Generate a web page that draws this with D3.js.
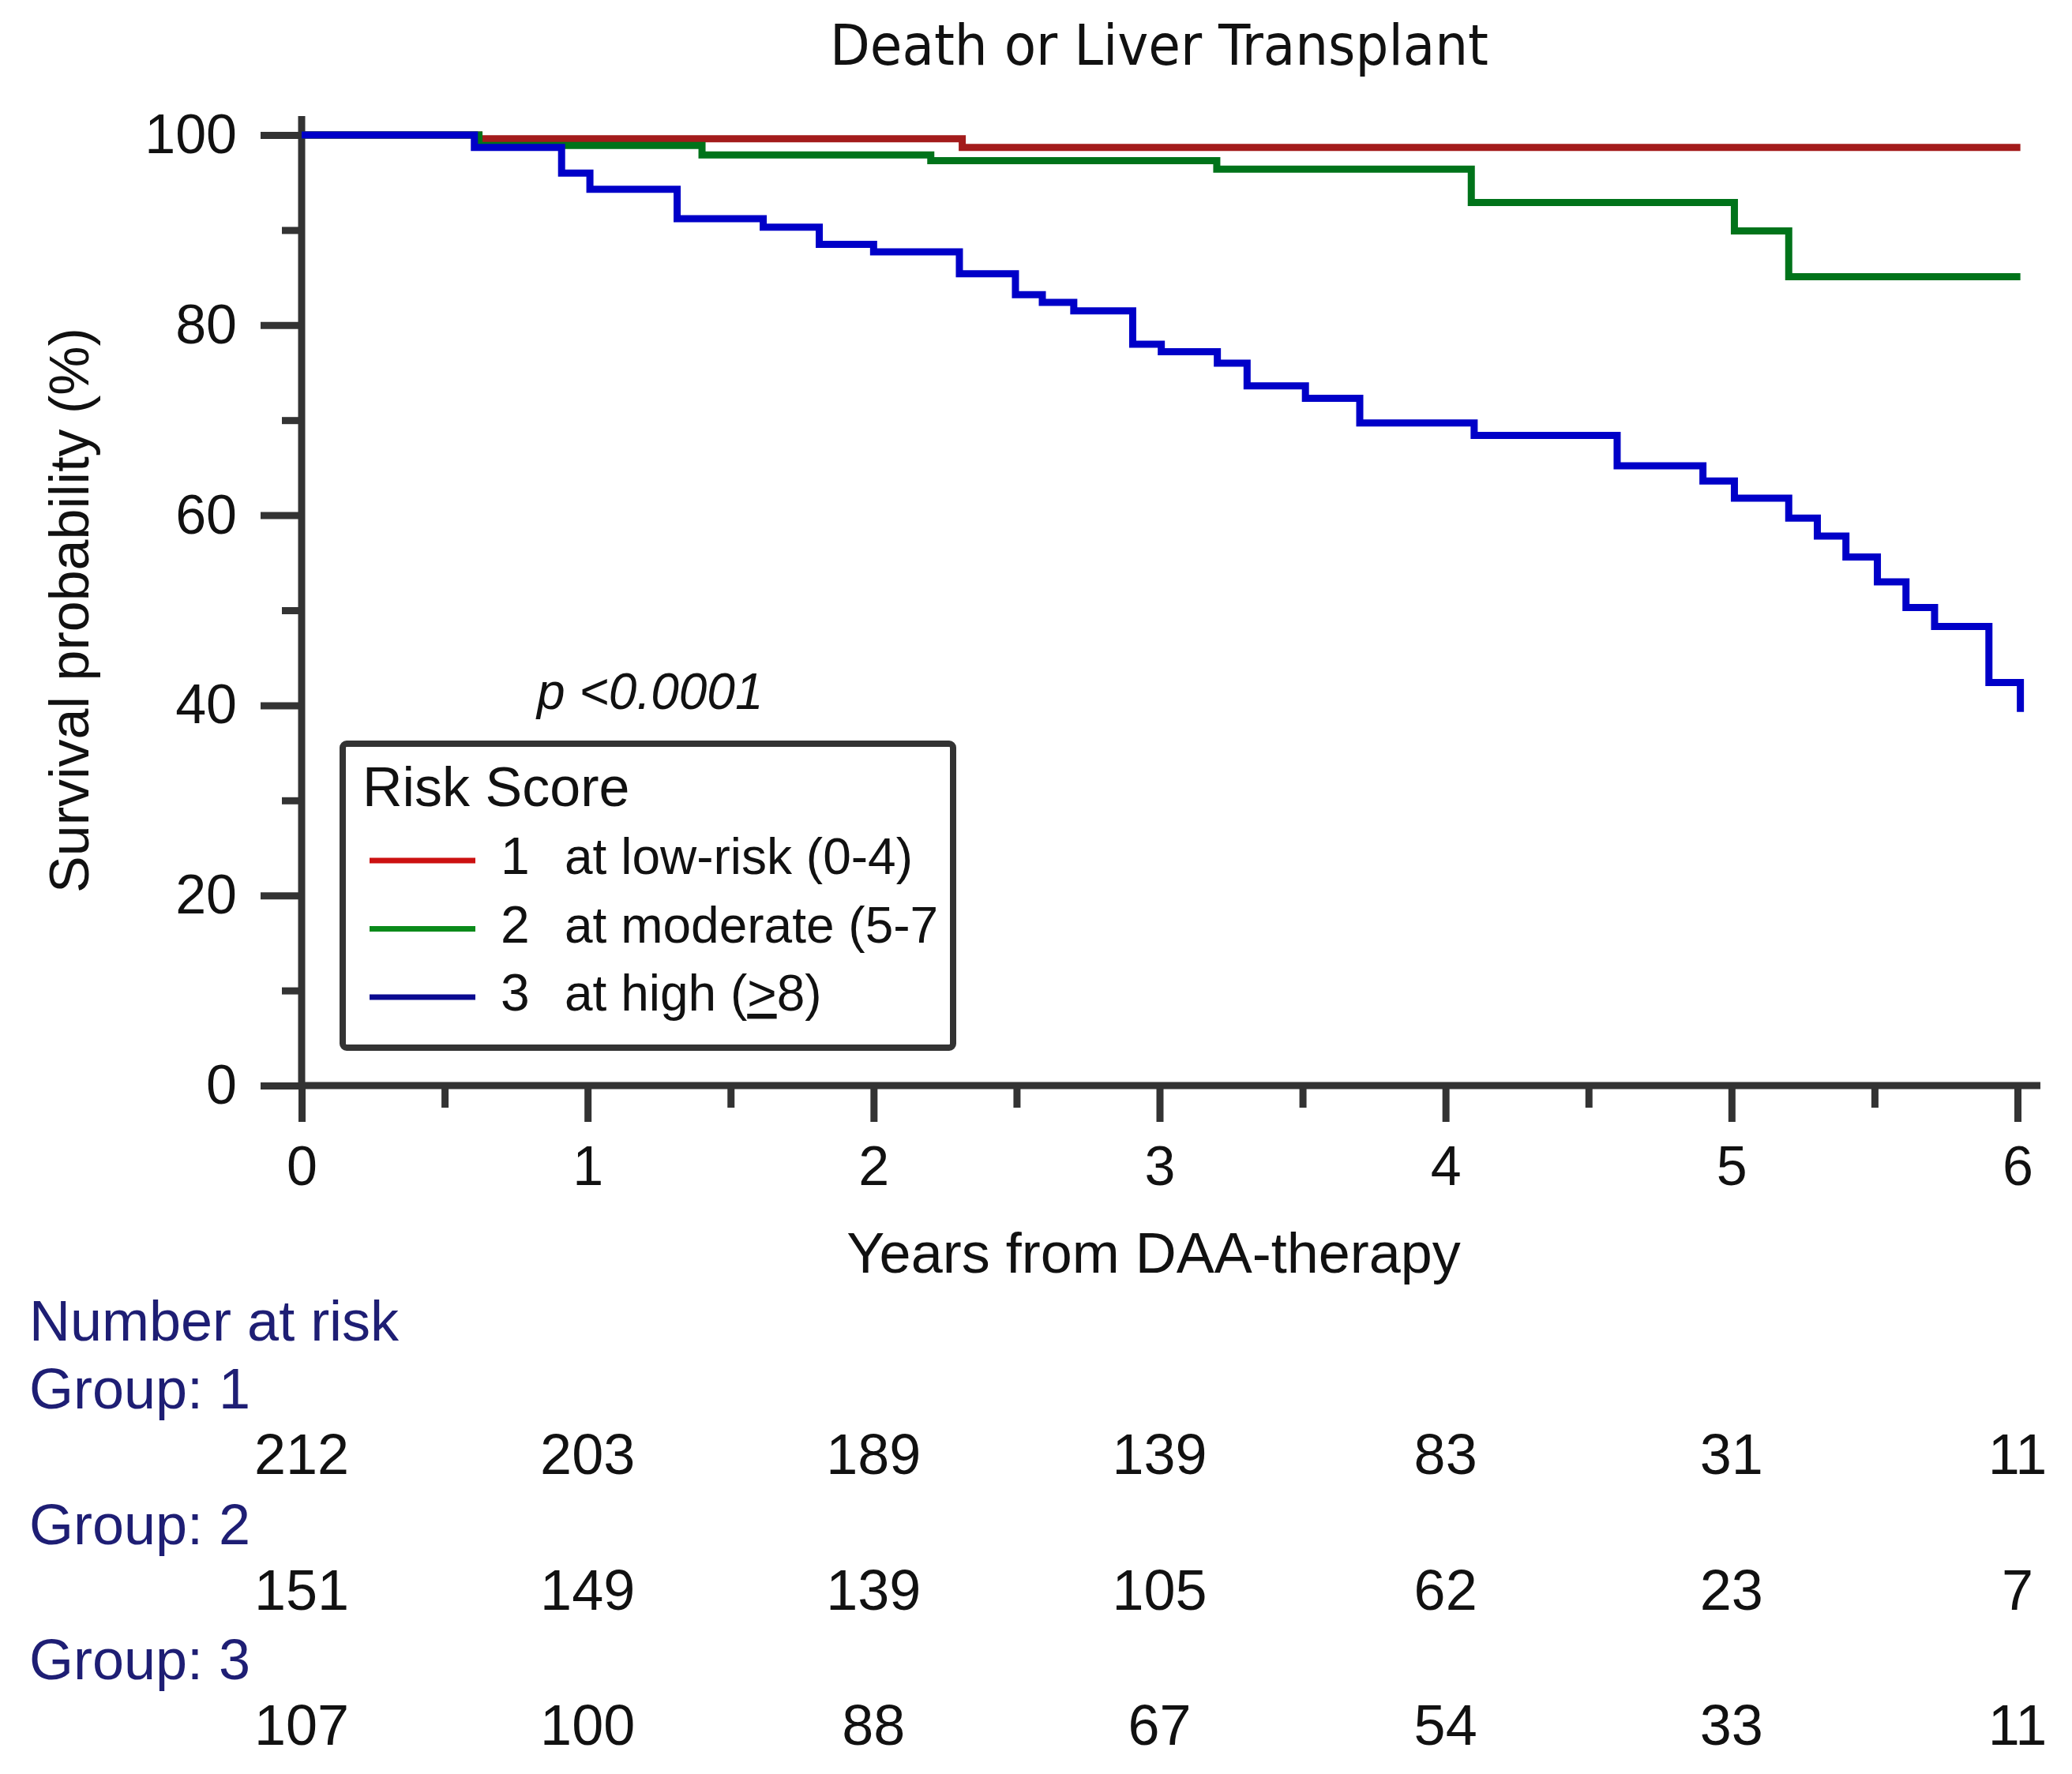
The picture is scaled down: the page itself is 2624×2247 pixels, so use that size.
<!DOCTYPE html>
<html>
<head>
<meta charset="utf-8">
<script src="https://cdn.jsdelivr.net/npm/d3@7"></script>
<style>
  body { margin: 0; background: #fff; }
  svg { display: block; }
  text { font-family: "Liberation Sans", Arial, sans-serif; }
</style>
</head>
<body>
<div id="chart"></div>
<script>
// Kaplan-Meier estimates (time in years, survival in %)
const redTimes   = [0, 0.62, 2.31, 6.01];
const redSurv    = [100, 99.6, 98.7, 98.7];

const greenTimes = [0, 0.62, 1.40, 2.20, 3.20, 4.09, 5.01, 5.20, 6.01];
const greenSurv  = [100, 98.9, 97.9, 97.3, 96.4, 92.9, 89.9, 85.1, 85.1];

const blueTimes  = [0, 0.604, 0.909, 1.008, 1.313, 1.614, 1.81, 2.0, 2.3, 2.496, 2.59, 2.70,
                    2.906, 3.006, 3.202, 3.306, 3.51, 3.70, 4.10, 4.60, 4.90, 5.01, 5.20,
                    5.30, 5.40, 5.51, 5.61, 5.71, 5.90, 6.01];
const blueSurv   = [100, 98.7, 96.0, 94.3, 91.2, 90.3, 88.5, 87.7, 85.4, 83.2, 82.4, 81.5,
                    78.0, 77.2, 76.0, 73.6, 72.3, 69.7, 68.4, 65.2, 63.6, 61.8, 59.7,
                    57.8, 55.6, 53.0, 50.3, 48.3, 42.4, 39.3];

const xTicks = [0, 1, 2, 3, 4, 5, 6];
const xMinor = [0.5, 1.5, 2.5, 3.5, 4.5, 5.5];
const yTicks = [0, 20, 40, 60, 80, 100];
const yMinor = [10, 30, 50, 70, 90];

const groupNames = ["Group: 1", "Group: 2", "Group: 3"];
const legendNums = ["1", "2", "3"];
const legendLabels = ["at low-risk (0-4)", "at moderate (5-7", "at high ("];
const atRisk = [
    [212, 203, 189, 139, 83, 31, 11],
    [151, 149, 139, 105, 62, 23, 7],
    [107, 100, 88, 67, 54, 33, 11]
];

const W = 2624, H = 2247;
const axisColor = "#333";
const lineColors = ["#a31b1b", "#00731a", "#0000c8"];
const legendColors = ["#cc1111", "#0a8a1a", "#0a0a90"];
const tableColor = "#1e1e74";

const svg = d3.select("#chart").append("svg")
    .attr("width", W)
    .attr("height", H);

const x = d3.scaleLinear().domain([0, 6]).range([382, 2555]);
const y = d3.scaleLinear().domain([0, 100]).range([1375, 171]);

// title
svg.append("text")
    .attr("x", 1468)
    .attr("y", 82)
    .attr("text-anchor", "middle")
    .attr("font-size", 72)
    .attr("textLength", 834)
    .attr("lengthAdjust", "spacingAndGlyphs")
    .attr("fill", "#111")
    .style("font-family", "'Liberation Sans Narrow', 'DejaVu Sans Condensed', Arial, sans-serif")
    .text("Death or Liver Transplant");

// axes
const yAxis = svg.append("g")
    .attr("transform", `translate(${x(0)},0)`)
    .call(d3.axisLeft(y).tickValues(yTicks).tickSize(52).tickPadding(30).tickSizeOuter(0));
const yAxisMinor = svg.append("g")
    .attr("transform", `translate(${x(0)},0)`)
    .call(d3.axisLeft(y).tickValues(yMinor).tickSize(25).tickFormat(""));
const xAxis = svg.append("g")
    .attr("transform", `translate(0,${y(0)})`)
    .call(d3.axisBottom(x).tickValues(xTicks).tickFormat(d3.format("d"))
        .tickSize(46).tickPadding(30).tickSizeOuter(0));
const xAxisMinor = svg.append("g")
    .attr("transform", `translate(0,${y(0)})`)
    .call(d3.axisBottom(x).tickValues(xMinor).tickSize(28).tickFormat(""));

[yAxis, yAxisMinor, xAxis, xAxisMinor].forEach(g => {
    g.select(".domain").remove();
    g.selectAll(".tick line").attr("stroke", axisColor).attr("stroke-width", 9);
    g.selectAll(".tick text")
        .attr("font-size", 70)
        .attr("fill", "#111")
        .style("font-family", "'Liberation Sans', Arial, sans-serif");
});

// axis lines
svg.append("line")
    .attr("x1", x(0)).attr("x2", x(0))
    .attr("y1", y(102)).attr("y2", y(0))
    .attr("stroke", axisColor).attr("stroke-width", 9);
svg.append("line")
    .attr("x1", x(0) - 4).attr("x2", x(6.08))
    .attr("y1", y(0)).attr("y2", y(0))
    .attr("stroke", axisColor).attr("stroke-width", 9);

// axis titles
svg.append("text")
    .attr("transform", "rotate(-90)")
    .attr("x", -773)
    .attr("y", 112)
    .attr("text-anchor", "middle")
    .attr("font-size", 70)
    .attr("fill", "#111")
    .text("Survival probability (%)");

svg.append("text")
    .attr("x", 1461)
    .attr("y", 1612)
    .attr("text-anchor", "middle")
    .attr("font-size", 72)
    .attr("fill", "#111")
    .text("Years from DAA-therapy");

// survival curves
const curves = [
    {times: redTimes, surv: redSurv},
    {times: greenTimes, surv: greenSurv},
    {times: blueTimes, surv: blueSurv}
];

const line = d3.line()
    .x(d => x(d[0]))
    .y(d => y(d[1]))
    .curve(d3.curveStepAfter);

svg.append("g").selectAll("path")
    .data(curves)
    .join("path")
    .attr("d", d => line(d3.zip(d.times, d.surv)))
    .attr("fill", "none")
    .attr("stroke", (d, i) => lineColors[i])
    .attr("stroke-width", 9);

// p value
svg.append("text")
    .attr("x", 680)
    .attr("y", 898)
    .attr("font-size", 64)
    .attr("font-style", "italic")
    .attr("fill", "#111")
    .text("p <0.0001");

// legend
const legend = svg.append("g");
legend.append("rect")
    .attr("x", 434).attr("y", 942)
    .attr("width", 773).attr("height", 385)
    .attr("rx", 5)
    .attr("fill", "#fff")
    .attr("stroke", axisColor)
    .attr("stroke-width", 8);

legend.append("text")
    .attr("x", 459).attr("y", 1021)
    .attr("font-size", 70)
    .attr("fill", "#111")
    .text("Risk Score");

const rows = legend.selectAll("g.row")
    .data(legendLabels)
    .join("g")
    .attr("class", "row")
    .attr("transform", (d, i) => `translate(0,${1090 + i * 86.5})`);

rows.append("line")
    .attr("x1", 468).attr("x2", 602)
    .attr("stroke", (d, i) => legendColors[i])
    .attr("stroke-width", 7);

rows.append("text")
    .attr("x", 634).attr("y", 17)
    .attr("font-size", 66)
    .attr("fill", "#111")
    .text((d, i) => legendNums[i]);

const labels = rows.append("text")
    .attr("x", 715).attr("y", 17)
    .attr("font-size", 64)
    .attr("fill", "#111")
    .text(d => d);

labels.filter((d, i) => i === 2).each(function() {
    const t = d3.select(this);
    t.append("tspan").style("text-decoration", "underline").text(">");
    t.append("tspan").text("8)");
});

// number at risk table
const table = svg.append("g");
table.append("text")
    .attr("x", 37).attr("y", 1698)
    .attr("font-size", 72)
    .attr("fill", tableColor)
    .text("Number at risk");

groupNames.forEach((name, gi) => {
    const base = 1784 + gi * 171.5;
    table.append("text")
        .attr("x", 37).attr("y", base)
        .attr("font-size", 72)
        .attr("fill", tableColor)
        .text(name);
    table.append("g").selectAll("text")
        .data(atRisk[gi])
        .join("text")
        .attr("x", (d, i) => x(xTicks[i]))
        .attr("y", base + 83)
        .attr("text-anchor", "middle")
        .attr("font-size", 72)
        .attr("fill", "#111")
        .text(d => d);
});
</script>
</body>
</html>
